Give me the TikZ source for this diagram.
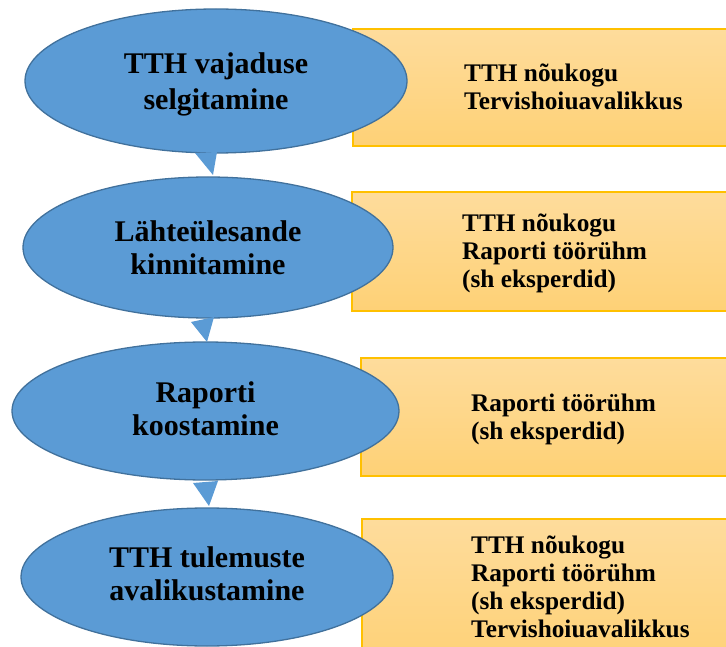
\documentclass[tikz,border=0pt]{standalone}
\usepackage{fontspec}
\setmainfont{Liberation Serif}[BoldFont={Liberation Serif Bold}]
\usetikzlibrary{shapes.geometric}
\definecolor{eblue}{RGB}{91,155,213}
\definecolor{eborder}{RGB}{65,113,156}
\definecolor{gtop}{RGB}{254,220,156}
\definecolor{gbot}{RGB}{254,209,118}
\definecolor{gborder}{RGB}{255,192,0}
\tikzset{
  stage/.style={ellipse, draw=eborder, fill=eblue, line width=1.3pt, inner sep=0pt},
  rolebox/.style={draw=gborder, line width=1.3pt, top color=gtop, bottom color=gbot},
  stagetext/.style={anchor=base, inner sep=0pt, font=\rmfamily\bfseries\fontsize{30}{33}\selectfont},
  roletext/.style={anchor=base west, inner sep=0pt, font=\rmfamily\bfseries\fontsize{25.3}{28}\selectfont},
  pointer/.style={fill=eblue, draw=none}
}
\begin{document}
\begin{tikzpicture}[x=1pt, y=-1pt]
\useasboundingbox (0,0) rectangle (726,647);
\clip (0,0) rectangle (726,647);
% role boxes
\path[rolebox] (353,29) rectangle (745,146);
\path[rolebox] (352,192) rectangle (745,311);
\path[rolebox] (361,358) rectangle (745,476);
\path[rolebox] (362,519) rectangle (745,665);
% stages
\node[stage, minimum width=382pt, minimum height=144pt] (e1) at (216,81) {};
\node[stage, minimum width=370pt, minimum height=141pt] (e2) at (208,247.5) {};
\node[stage, minimum width=387pt, minimum height=138pt] (e3) at (205.5,411) {};
\node[stage, minimum width=372pt, minimum height=138pt] (e4) at (207,577) {};
% pointers
\coordinate (p1a) at (195,153); \coordinate (p1b) at (217,152); \coordinate (p1c) at (213,175);
\coordinate (p2a) at (191,322); \coordinate (p2b) at (214,317); \coordinate (p2c) at (207,342);
\coordinate (p3a) at (193,483); \coordinate (p3b) at (218,481); \coordinate (p3c) at (209,506);
\fill[pointer] (p1a) -- (p1b) -- (p1c) -- cycle;
\fill[pointer] (p2a) -- (p2b) -- (p2c) -- cycle;
\fill[pointer] (p3a) -- (p3b) -- (p3c) -- cycle;
% stage texts
\node[stagetext] (s1) at (216,74) {\fontsize{30}{36}\selectfont\begin{tabular}[t]{@{}c@{}}TTH vajaduse\\selgitamine\end{tabular}};
\node[stagetext] (s2) at (208,242) {\begin{tabular}[t]{@{}c@{}}Lähteülesande\\kinnitamine\end{tabular}};
\node[stagetext] (s3) at (205.5,402) {\begin{tabular}[t]{@{}c@{}}Raporti\\koostamine\end{tabular}};
\node[stagetext] (s4) at (207,567) {\begin{tabular}[t]{@{}c@{}}TTH tulemuste\\avalikustamine\end{tabular}};
% role texts
\node[roletext] (r1) at (464,82) {\begin{tabular}[t]{@{}l@{}}TTH nõukogu\\Tervishoiuavalikkus\end{tabular}};
\node[roletext] (r2) at (462,232) {\begin{tabular}[t]{@{}l@{}}TTH nõukogu\\Raporti töörühm\\(sh eksperdid)\end{tabular}};
\node[roletext] (r3) at (471,411) {\begin{tabular}[t]{@{}l@{}}Raporti töörühm\\(sh eksperdid)\end{tabular}};
\node[roletext] (r4) at (471,553) {\begin{tabular}[t]{@{}l@{}}TTH nõukogu\\Raporti töörühm\\(sh eksperdid)\\Tervishoiuavalikkus\end{tabular}};
\end{tikzpicture}
\end{document}
